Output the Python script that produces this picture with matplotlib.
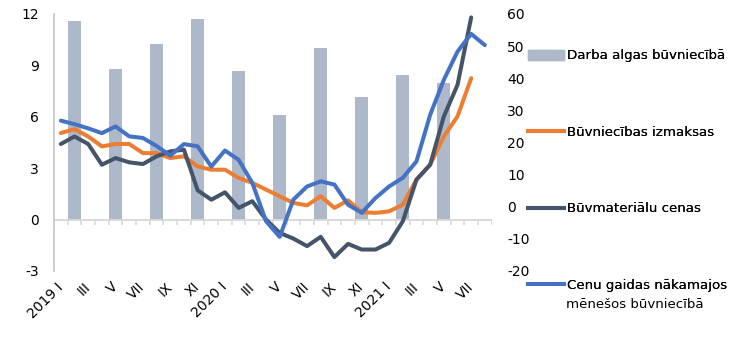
import numpy as np
import matplotlib
matplotlib.use("Agg")
import matplotlib.pyplot as plt
from matplotlib.lines import Line2D
from matplotlib.patches import Patch

plt.rcParams["font.family"] = ["DejaVu Sans"]
plt.rcParams["font.size"] = 10
plt.rcParams["axes.unicode_minus"] = False

# mēneši 2019 I - 2021 VIII
roman = ["I", "II", "III", "IV", "V", "VI", "VII", "VIII", "IX", "X", "XI", "XII"]
months = ([f"2019 {r}" if r == "I" else r for r in roman]
          + [f"2020 {r}" if r == "I" else r for r in roman]
          + [f"2021 {r}" if r == "I" else r for r in roman[:8]])

nan = np.nan
# darba algas (ceturkšņa vidus mēnesī), %
wages = [nan, 11.6, nan, nan, 8.8, nan, nan, 10.25, nan, nan, 11.7, nan,
         nan, 8.7, nan, nan, 6.1, nan, nan, 10.0, nan, nan, 7.15, nan,
         nan, 8.45, nan, nan, 7.95, nan, nan, nan]
# būvniecības izmaksas, %
costs = [5.05, 5.28, 4.85, 4.27, 4.41, 4.41, 3.88, 3.88, 3.59, 3.69, 3.10, 2.91,
         2.91, 2.43, 2.14, 1.75, 1.36, 0.97, 0.83, 1.36, 0.68, 1.12, 0.43, 0.39,
         0.48, 0.87, 2.33, 3.20, 4.85, 6.02, 8.25, nan]
# būvmateriālu cenas, %
materials = [4.41, 4.85, 4.41, 3.20, 3.59, 3.34, 3.24, 3.69, 3.98, 4.08, 1.71, 1.16,
             1.59, 0.68, 1.07, 0.0, -0.78, -1.11, -1.55, -1.01, -2.19, -1.42, -1.75, -1.75,
             -1.36, -0.10, 2.33, 3.20, 6.02, 7.86, 11.8, nan]
# cenu gaidas (labā ass)
expect = [26.8, 25.7, 24.4, 22.9, 25.0, 21.9, 21.4, 18.9, 15.9, 19.5, 18.8, 12.5,
          17.5, 14.6, 7.4, -4.5, -9.4, 2.2, 6.3, 7.9, 6.9, 0.6, -1.9, 2.7,
          6.3, 9.0, 14.1, 28.6, 39.5, 48.3, 53.8, 50.3]

c_bar = "#adb9ca"
c_cost = "#ed7d31"
c_mat = "#44546a"
c_exp = "#4472c4"

fig = plt.figure(figsize=(7.5, 3.37), dpi=100)
ax = fig.add_axes([0.072, 0.196, 0.5836, 0.7625])
x = np.arange(len(months))

ax.bar(x, wages, width=0.95, color=c_bar, zorder=1)
ax.plot(x, costs, color=c_cost, lw=2.9, solid_capstyle="round", zorder=3)
ax.plot(x, materials, color=c_mat, lw=2.9, solid_capstyle="round", zorder=4)

ax.set_xlim(-0.5, len(months) - 0.5)
ax.set_ylim(-3, 12)
ax.set_yticks([-3, 0, 3, 6, 9, 12])
ax.tick_params(axis="y", length=0, pad=11)

for s in ["top", "right", "bottom"]:
    ax.spines[s].set_visible(False)
ax.spines["left"].set_color("#c8c8c8")
ax.spines["left"].set_linewidth(1.3)

# nulles līnija ar iedaļām
ax.axhline(0, color="#d9d9d9", lw=1.4, zorder=2)
ax.vlines(np.arange(len(months) + 1) - 0.5, -0.3, 0, color="#d9d9d9", lw=1.2, zorder=2)

ax.set_xticks(x[::2])
ax.set_xticklabels(months[::2], rotation=45, ha="right", va="center",
                   rotation_mode="anchor")
ax.tick_params(axis="x", length=0, pad=10)

ax2 = ax.twinx()
ax2.plot(x, expect, color=c_exp, lw=2.9, solid_capstyle="round", zorder=5)
ax2.set_ylim(-20, 60)
ax2.set_yticks(range(-20, 61, 10))
ax2.tick_params(axis="y", length=0, pad=11)
for s in ax2.spines.values():
    s.set_visible(False)

# leģenda
fs = 9.6
entries = [
    (Patch(color=c_bar), "Darba algas būvniecībā", 56),
    (Line2D([], [], color=c_cost, lw=2.9), "Būvniecības izmaksas", 132),
    (Line2D([], [], color=c_mat, lw=2.9), "Būvmateriālu cenas", 209),
    (Line2D([], [], color=c_exp, lw=2.9), "Cenu gaidas nākamajos", 285),
]
H = 337.0
for h, lab, ypx in entries:
    lg = fig.legend([h], [lab], loc="center left", bbox_to_anchor=(528 / 750, 1 - ypx / H),
                    frameon=False, borderpad=0, borderaxespad=0, handlelength=2.7,
                    handletextpad=0.25, fontsize=fs)
    fig.add_artist(lg)
fig.text(566 / 750, 1 - 305 / H, "mēnešos būvniecībā", ha="left", va="center", fontsize=fs)

fig.savefig("out.png", dpi=100)
